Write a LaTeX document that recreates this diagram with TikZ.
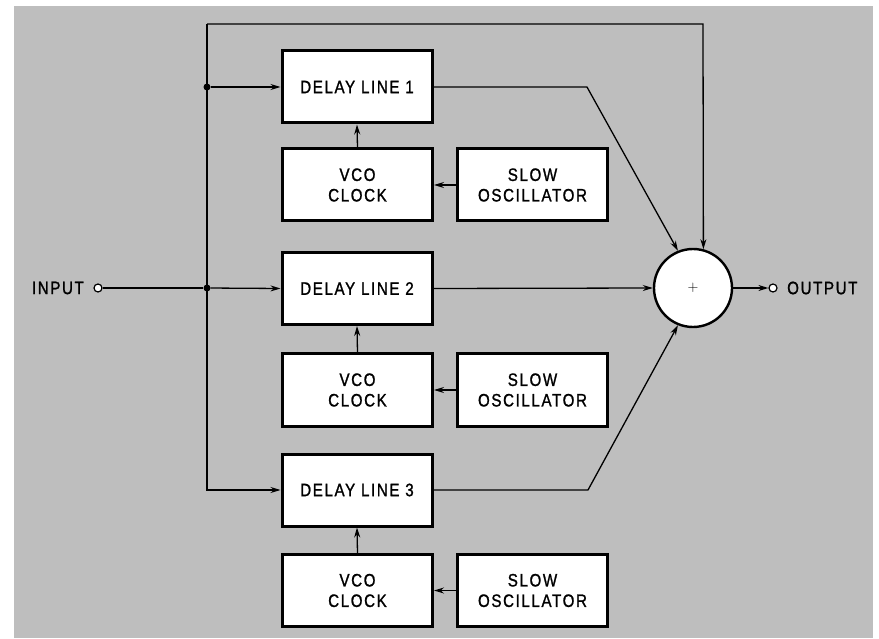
\documentclass[tikz,border=0pt]{standalone}
\usepackage{fontspec}
\newfontfamily\lab{Liberation Sans}[FakeStretch=0.84,LetterSpace=9,FakeBold=1.2]
\usetikzlibrary{arrows.meta}
\definecolor{paper}{RGB}{190,190,190}
\tikzset{
  blk/.style={draw=black,line width=3pt,fill=white,minimum width=150pt,minimum height=72pt,inner sep=0pt,align=center,font=\lab\fontsize{18}{20.5}\selectfont},
  wire/.style={line width=1.3pt},
  arr/.style={wire,-{Stealth[length=10pt,width=6pt]}},
  dot/.style={circle,fill=black,inner sep=0pt,minimum size=7pt},
  port/.style={circle,draw=black,line width=1.2pt,fill=white,inner sep=0pt,minimum size=8pt},
  txt/.style={font=\lab\fontsize{18}{20}\selectfont,inner sep=0pt}
}
\begin{document}
\begin{tikzpicture}[x=1pt,y=-1pt]
\useasboundingbox (0,0) rectangle (879,639);
\fill[white] (0,0) rectangle (879,639);
\fill[paper] (14,6) rectangle (873,638);
% boxes
\node[blk] (dl1) at (357,87) {DELAY LINE 1};
\node[blk] (vco1) at (357.5,185) {VCO\\CLOCK};
\node[blk] (osc1) at (532.5,185) {SLOW\\OSCILLATOR};
\node[blk] (dl2) at (357,288.5) {DELAY LINE 2};
\node[blk] (vco2) at (357.5,390) {VCO\\CLOCK};
\node[blk] (osc2) at (532.5,390) {SLOW\\OSCILLATOR};
\node[blk] (dl3) at (357,490) {DELAY LINE 3};
\node[blk] (vco3) at (357.5,590.5) {VCO\\CLOCK};
\node[blk] (osc3) at (532.5,590.5) {SLOW\\OSCILLATOR};
% summer
\node[circle,draw=black,line width=2.4pt,fill=white,minimum size=78pt,inner sep=0pt,font=\fontsize{15}{15}\selectfont] (sum) at (693,288) {+};
% ports
\node[port] (pin) at (98,288) {};
\node[txt,anchor=east] (lin) at (84,288) {INPUT};
\node[port] (pout) at (773,288) {};
\node[txt,anchor=west] (lout) at (787,288) {OUTPUT};
% junctions
\node[dot] (j1) at (207,87) {};
\node[dot] (j2) at (207,288) {};
\coordinate (ttl) at (207,24);
\coordinate (ttr) at (703,24);
\coordinate (cb) at (207,490);
\coordinate (k1) at (587,87);
\coordinate (k3) at (588,490);
% wires
\draw[wire] (pin) -- (j2);
\draw[arr] (j2) -- (dl2.west);
\draw[arr] (j1) -- (dl1.west);
\draw[arr] (ttl) -- (cb) -- (dl3.west);
\draw[arr] (ttl) -- (ttr) -- (sum.75);
\draw[arr] (dl1.east) -- (k1) -- (sum.112);
\draw[arr] (dl2.east) -- (sum.west);
\draw[arr] (dl3.east) -- (k3) -- (sum.248);
\draw[arr] (sum.east) -- (pout.west);
\foreach \i in {1,2,3}{
  \draw[arr] (vco\i.north) -- (dl\i.south);
  \draw[arr] (osc\i.west) -- (vco\i.east);
}
\end{tikzpicture}
\end{document}
